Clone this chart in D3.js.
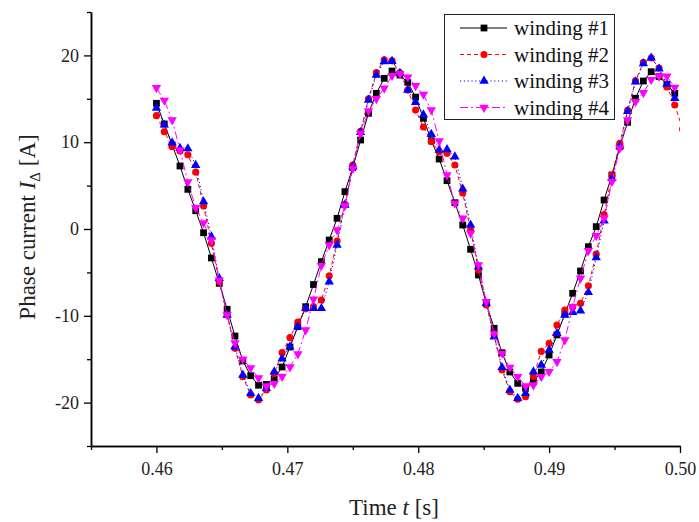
<!DOCTYPE html>
<html><head><meta charset="utf-8">
<script src="https://cdn.jsdelivr.net/npm/d3@7"></script>
<style>body{margin:0;background:#fff}svg{display:block}</style>
</head><body>
<svg id="chart" width="699" height="522"></svg>
<script>
// ---- data ----
const t0 = 0.46;      // first sample time [s]
const dt = 0.0006;    // sampling step [s]
const winding1 = [14.48,12.10,9.68,7.26,4.57,2.11,-0.43,-3.34,-6.26,-9.25,-12.33,-15.2,-16.9,-18.0,-17.9,-17.25,-15.9,-13.6,-11.25,-8.95,-6.4,-3.76,-1.27,1.23,4.30,7.07,10.25,13.33,15.63,17.36,18.2,17.74,16.9,15.2,12.75,10.17,8.06,5.57,3.03,0.46,-2.34,-5.30,-8.56,-11.44,-14.25,-16.47,-17.78,-18.35,-17.59,-16.47,-14.52,-12.2,-9.8,-7.41,-4.84,-2.04,0.27,3.34,6.22,9.48,12.29,15.06,17.05,18.12,17.55,16.67,15.63];
const winding2 = [13.06,11.21,9.49,9.0,8.55,6.55,2.66,-1.65,-6.07,-9.91,-13.75,-17.02,-19.12,-19.70,-18.55,-16.63,-14.25,-12.52,-10.72,-9.2,-8.95,-8.18,-5.38,-1.38,2.85,7.37,11.25,15.0,18.02,19.5,19.37,18.0,16.0,13.7,11.75,10.06,8.91,8.72,7.37,4.15,-0.12,-4.72,-8.76,-12.21,-16.24,-18.74,-19.62,-19.32,-17.0,-14.1,-13.17,-11.06,-9.33,-9.0,-8.56,-6.55,-2.9,1.67,6.22,9.87,13.67,17.07,19.2,19.7,18.55,16.36,14.29,11.5];
const winding3 = [13.94,12.0,9.94,9.3,9.27,7.35,3.15,-0.89,-5.68,-9.91,-13.56,-16.82,-18.93,-19.5,-18.35,-16.44,-14.94,-13.56,-11.25,-9.14,-9.14,-9.14,-6.07,-1.84,2.77,7.18,11.14,14.86,17.74,19.3,19.33,17.94,16.01,14.6,13.17,10.92,9.1,9.16,8.33,4.63,0.46,-4.34,-8.56,-12.41,-15.94,-18.55,-19.5,-18.93,-16.44,-15.67,-13.94,-12.02,-9.91,-9.6,-9.41,-7.3,-3.3,0.95,5.84,9.55,13.57,16.97,19.05,19.72,18.45,16.7,15.06];
const winding4 = [16.27,14.82,12.56,9.1,5.42,2.44,0.7,-1.27,-5.9,-9.91,-13.14,-15.0,-16.0,-17.17,-18.09,-17.82,-17.0,-15.9,-14.4,-11.64,-8.1,-4.22,-1.84,-0.12,2.68,6.95,11.02,13.6,15.0,16.21,17.65,17.9,17.5,16.5,15.5,13.71,10.15,6.22,2.96,1.23,-0.5,-4.15,-8.37,-12.02,-14.33,-15.94,-17.02,-18.09,-17.97,-17.02,-16.44,-15.29,-12.79,-8.95,-5.68,-2.5,-0.77,1.23,5.45,9.3,12.55,14.67,15.7,17.2,17.6,17.6,16.3];
const seriesNames = ["winding #1","winding #2","winding #3","winding #4"];
const xTicksMajor = [0.46,0.47,0.48,0.49,0.50];
const xTicksMinor = [0.455,0.465,0.475,0.485,0.495];
const yTicksMajor = [-20,-10,0,10,20];
const yTicksMinor = [-25,-15,-5,5,15,25];
const xDomain = [0.455,0.50];
const yDomain = [-25,25];

// ---- layout ----
const L = 91, R = 680, T = 12, B = 446;
const svg = d3.select("#chart");
const x = d3.scaleLinear().domain(xDomain).range([L, R]);
const y = d3.scaleLinear().domain(yDomain).range([B, T]);
const FONT = "'Liberation Serif','Times New Roman',serif";

svg.append("defs").append("clipPath").attr("id","clip")
  .append("rect").attr("x",L).attr("y",T-10).attr("width",R-L).attr("height",B-T+20);

const styles = [
  {color:"#000000", dash:null,        sym:d3.symbolSquare,   size:46, rot:0},
  {color:"#ff0000", dash:"4,3",       sym:d3.symbolCircle,   size:40, rot:0},
  {color:"#0000ff", dash:"1.2,2.6",   sym:d3.symbolTriangle, size:38, rot:0},
  {color:"#ff00ff", dash:"8,3,2,3",   sym:d3.symbolTriangle, size:38, rot:180}
];
const allSeries = [winding1, winding2, winding3, winding4];

const plot = svg.append("g").attr("clip-path","url(#clip)");
allSeries.forEach((vals, k) => {
  const st = styles[k];
  const pts = vals.map((v,i) => ({t: t0 + i*dt, v}));
  plot.append("path").datum(pts)
    .attr("fill","none").attr("stroke",st.color).attr("stroke-width",1)
    .attr("stroke-dasharray",st.dash)
    .attr("d", d3.line().x(d=>x(d.t)).y(d=>y(d.v)));
  plot.selectAll(null).data(pts).enter().append("path")
    .attr("d", d3.symbol().type(st.sym).size(st.size))
    .attr("transform", d => `translate(${x(d.t)},${y(d.v)}) rotate(${st.rot})`)
    .attr("fill", st.color);
});

// ---- axes ----
function styleAxis(g){
  g.select(".domain").attr("stroke","#000").attr("stroke-width",1.5);
  g.selectAll(".tick line").attr("stroke","#000").attr("stroke-width",1.3);
  g.selectAll(".tick text").attr("font-family",FONT).attr("font-size",18).attr("fill","#222");
}
const gx = svg.append("g").attr("transform",`translate(0,${B})`)
  .call(d3.axisBottom(x).tickValues(xTicksMajor).tickFormat(d3.format(".2f")).tickSizeOuter(0).tickSizeInner(7).tickPadding(9));
styleAxis(gx);
const gxm = svg.append("g").attr("transform",`translate(0,${B})`)
  .call(d3.axisBottom(x).tickValues(xTicksMinor).tickFormat("").tickSizeOuter(0).tickSizeInner(4));
styleAxis(gxm);
const gy = svg.append("g").attr("transform",`translate(${L},0)`)
  .call(d3.axisLeft(y).tickValues(yTicksMajor).tickFormat(d3.format("d")).tickSizeOuter(0).tickSizeInner(7).tickPadding(5));
styleAxis(gy);
const gym = svg.append("g").attr("transform",`translate(${L},0)`)
  .call(d3.axisLeft(y).tickValues(yTicksMinor).tickFormat("").tickSizeOuter(0).tickSizeInner(4));
styleAxis(gym);
gy.selectAll(".tick text").text(d => d < 0 ? "-" + Math.abs(d) : d);

// axis titles
const xt = svg.append("text").attr("x",394).attr("y",515).attr("text-anchor","middle")
  .attr("font-family",FONT).attr("font-size",23).attr("fill","#222");
xt.append("tspan").text("Time ");
xt.append("tspan").attr("font-style","italic").text("t");
xt.append("tspan").text(" [s]");

const yt = svg.append("text").attr("transform",`translate(35,${(T+B)/2 - 2}) rotate(-90)`)
  .attr("text-anchor","middle").attr("font-family",FONT).attr("font-size",23).attr("fill","#222");
yt.append("tspan").text("Phase current ");
yt.append("tspan").attr("font-style","italic").text("I");
yt.append("tspan").attr("font-size",15).attr("dy",5).text("\u0394");
yt.append("tspan").attr("dy",-5).text(" [A]");

// ---- legend ----
const lg = svg.append("g");
lg.append("rect").attr("x",444.5).attr("y",14.5).attr("width",170).attr("height",105)
  .attr("fill","#fff").attr("stroke","#222").attr("stroke-width",1);
seriesNames.forEach((name,k) => {
  const st = styles[k];
  const yy = 28 + k*26.5;
  lg.append("line").attr("x1",460).attr("x2",507).attr("y1",yy).attr("y2",yy)
    .attr("stroke",st.color).attr("stroke-width",1).attr("stroke-dasharray",st.dash);
  lg.append("path").attr("d", d3.symbol().type(st.sym).size(st.size))
    .attr("transform",`translate(484,${yy}) rotate(${st.rot})`).attr("fill",st.color);
  lg.append("text").attr("x",514).attr("y",yy+7).attr("font-family",FONT).attr("font-size",21)
    .attr("fill","#111").text(name);
});
</script>
</body></html>
